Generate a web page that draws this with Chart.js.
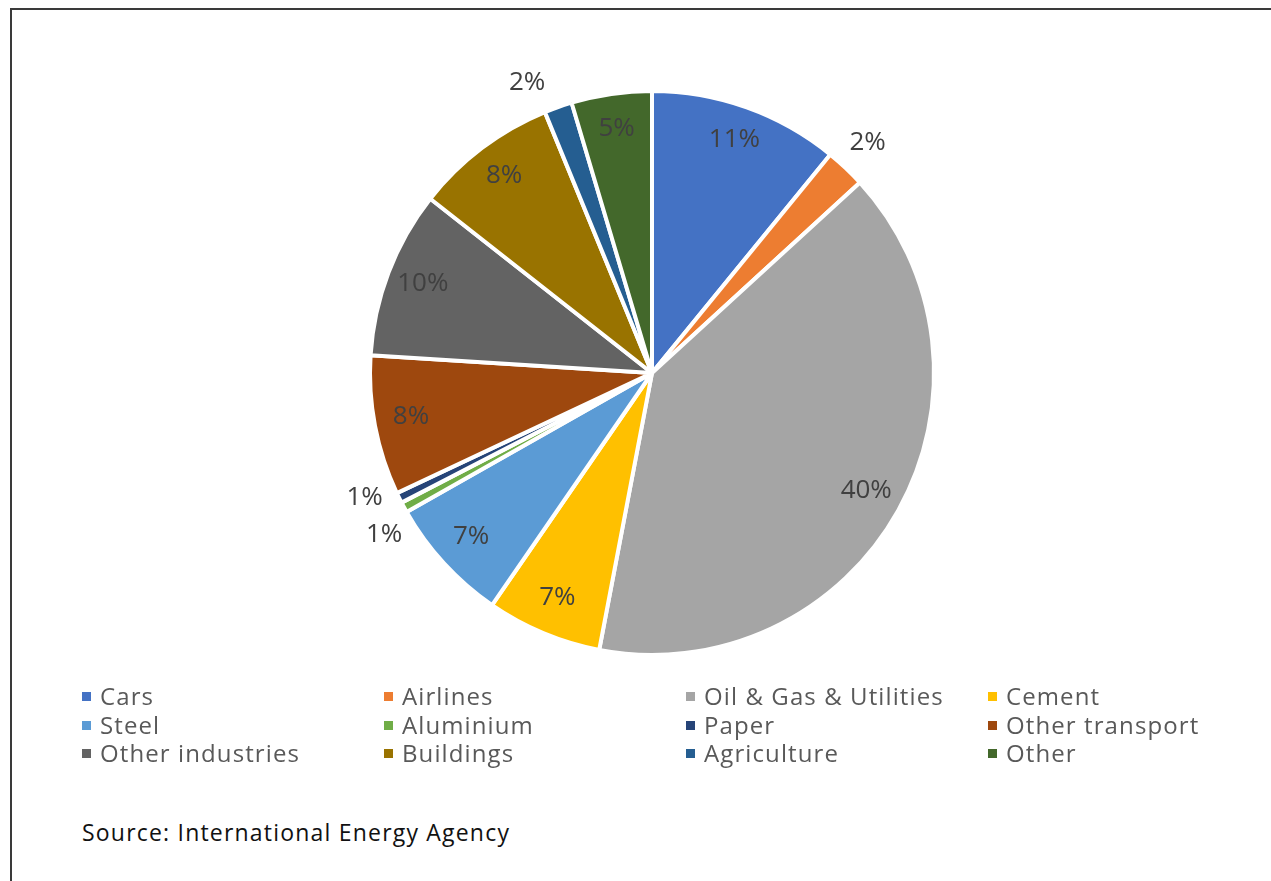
<!DOCTYPE html>
<html>
<head>
<meta charset="utf-8">
<script src="https://cdn.jsdelivr.net/npm/chart.js@4/dist/chart.umd.min.js"></script>
<style>
  html, body { margin: 0; padding: 0; background: #fff; }
  body { width: 1271px; height: 881px; position: relative; overflow: hidden; }
  #frame { position: absolute; left: 10px; top: 8px; width: 1280px; height: 900px;
           border-top: 2px solid #3a3a3a; border-left: 2px solid #3a3a3a; }
  #wrap { position: absolute; left: 272px; top: 53px; width: 760px; height: 640px; }
  #legend { position: absolute; left: 80px; top: 682px; display: grid;
            grid-template-columns: 302px 302px 302px 302px; row-gap: 0px;
            font-family: "Open Sans", sans-serif; font-size: 24px; letter-spacing: 1.1px; color: #595959; }
  #legend .item { height: 28.5px; line-height: 28.5px; white-space: nowrap; }
  #legend .sw { display: inline-block; width: 9px; height: 9px; margin: 0 9px 0 2px; vertical-align: 4px; }
  #source { position: absolute; left: 82px; top: 816px; font-family: "Open Sans", sans-serif;
            font-size: 23px; letter-spacing: 1.2px; color: #111; }
</style>
</head>
<body>
<div id="frame"></div>
<div id="wrap"><canvas id="c" width="760" height="640"></canvas></div>
<div id="legend"></div>
<div id="source">Source: International Energy Agency</div>
<script>
const categories = ["Cars", "Airlines", "Oil & Gas & Utilities", "Cement", "Steel", "Aluminium",
                    "Paper", "Other transport", "Other industries", "Buildings", "Agriculture", "Other"];
const shares = [10.9, 2.3, 39.8, 6.6, 7.2, 0.6, 0.6, 8.0, 9.6, 8.2, 1.6, 4.6];
const colors = ["#4472C4", "#ED7D31", "#A5A5A5", "#FFC000", "#5B9BD5", "#70AD47",
                "#264478", "#9E480E", "#636363", "#997300", "#255E91", "#43682B"];

// per-slice label placement: outside for small slices, with small angular nudges (degrees)
const outsideLabels = { 1: 0, 5: -3, 6: 2.5, 10: -4 };

const pieLabels = {
  id: 'pieLabels',
  afterDatasetsDraw(chart) {
    const ctx = chart.ctx;
    const meta = chart.getDatasetMeta(0);
    const data = chart.data.datasets[0].data;
    const total = data.reduce((a, b) => a + b, 0);
    ctx.save();
    ctx.font = '26px "Open Sans", sans-serif';
    ctx.fillStyle = '#404040';
    ctx.textAlign = 'center';
    ctx.textBaseline = 'middle';
    meta.data.forEach((arc, i) => {
      const p = arc.getProps(['x', 'y', 'startAngle', 'endAngle', 'outerRadius'], true);
      let mid = (p.startAngle + p.endAngle) / 2;
      let r = p.outerRadius * 0.87;
      if (i in outsideLabels) {
        mid += outsideLabels[i] * Math.PI / 180;
        r = p.outerRadius + 32;
      }
      const txt = Math.round(data[i] / total * 100) + '%';
      ctx.fillText(txt, p.x + Math.cos(mid) * r, p.y + Math.sin(mid) * r - 2);
    });
    ctx.restore();
  }
};

const chart = new Chart(document.getElementById('c'), {
  type: 'pie',
  data: {
    labels: categories,
    datasets: [{ data: shares, backgroundColor: colors, borderColor: '#ffffff', borderWidth: 4 }]
  },
  options: {
    responsive: false,
    animation: false,
    layout: { padding: { top: 36, bottom: 36, left: 96, right: 96 } },
    plugins: { legend: { display: false }, tooltip: { enabled: false } }
  },
  plugins: [pieLabels]
});

const leg = document.getElementById('legend');
categories.forEach((name, i) => {
  const d = document.createElement('div');
  d.className = 'item';
  d.innerHTML = '<span class="sw" style="background:' + colors[i] + '"></span>' + name.replace(/&/g, '&amp;');
  leg.appendChild(d);
});
</script>
</body>
</html>
